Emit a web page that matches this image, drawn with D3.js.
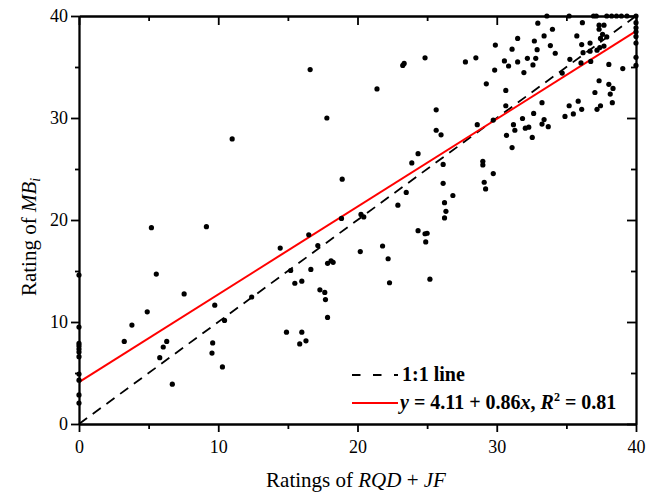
<!DOCTYPE html>
<html>
<head>
<meta charset="utf-8">
<script src="https://cdn.jsdelivr.net/npm/d3@7"></script>
<style>
body{margin:0;background:#fff;}
svg{display:block;font-family:"Liberation Serif","Times New Roman",serif;}
.axis path,.axis line{stroke:#000;stroke-width:1.8;}
.axis text{font-size:18px;fill:#000;font-family:"Liberation Serif","Times New Roman",serif;}
</style>
</head>
<body>
<div id="chart"></div>
<script>
// ratings of RQD + JF (x) and ratings of MBi (y), one entry per site
const ratingRqdJf = [
  0,0,0,0,0,0,0,0,0,0,0,
  33.6,35.2,36.95,37.15,37.9,38.25,38.6,38.95,39.35,40,
  40,40,40,40,40,40,40,
  16.6,17.8,11.0,5.2,9.15,16.5,17.15,14.45,20.2,21.8,22.2,22.3,25.2,24.9,24.85,25.0,24.35,
  17.85,18.1,18.25,17.3,17.65,17.7,17.85,22.9,20.25,20.45,18.85,18.9,12.4,15.2,16.65,15.5,16.0,
  14.9,16.0,15.85,16.3,3.25,3.8,4.9,5.55,5.8,6.05,6.3,6.7,7.55,9.75,9.6,9.55,10.3,10.45,
  23.5,24.35,23.9,26.15,29.0,29.0,29.75,29.1,29.2,26.15,26.85,26.25,26.35,26.25,25.65,25.65,26.0,
  21.4,23.25,23.35,24.85,27.75,28.5,29.9,31.5,31.1,30.55,30.85,31.5,29.85,29.25,30.65,30.65,
  31.85,28.6,29.75,31.2,31.3,30.7,31.1,32.55,32.05,32.3,32.65,33.25,33.4,33.25,33.7,34.9,35.5,
  35.2,35.85,36.1,37.2,37.45,38.3,37.05,38.15,37.35,38.05,38.35,39.05,38.05,36.75,36.05,35.25,
  34.7,31.95,32.6,32.2,32.8,32.9,34.2,33.85,32.7,33.4,34.0,32.95,36.15,35.75,36.1,36.7,36.2,
  36.7,37.2,37.4,37.7,37.35,37.7,37.35,37.6,37.9,37.45
];
const ratingMbi = [
  14.6,9.5,7.9,7.65,7.35,7.05,6.6,4.9,4.3,2.85,2.05,
  40,40,40,40,40,40,40,40,40,40,
  39.35,38.85,38.45,38.0,37.35,35.95,35.15,
  34.75,30.0,27.95,19.25,19.35,18.55,17.5,17.25,16.9,17.45,16.2,13.85,14.2,17.85,18.65,18.7,18.95,
  15.75,16.0,15.85,13.15,12.9,12.2,10.45,21.45,20.55,20.3,20.15,24.0,12.45,15.05,15.15,13.8,14.0,
  9.0,9.0,7.85,8.15,8.1,9.7,11.0,14.7,6.5,7.55,8.1,3.9,12.75,11.65,7.95,6.95,5.6,10.15,
  22.7,26.5,25.6,25.45,25.75,25.4,24.55,23.7,23.05,23.6,22.4,21.7,20.85,20.2,30.8,28.8,28.35,
  32.85,35.15,35.35,35.9,35.5,35.9,37.15,37.8,36.75,35.6,35.1,35.5,34.7,33.35,32.7,31.2,
  29.95,29.35,29.8,29.35,28.8,28.3,27.1,28.1,29.0,29.1,30.45,31.5,29.85,29.4,29.15,30.15,30.4,
  31.2,31.65,30.85,30.85,31.2,31.5,32.5,32.35,33.65,33.3,32.9,34.85,35.25,35.55,35.4,35.75,
  34.4,34.45,35.2,35.85,35.85,36.7,36.35,37.1,37.55,38.05,38.7,39.3,39.35,38.05,37.2,37.35,36.4,
  36.55,36.65,36.9,37.05,39.1,39.1,38.7,38.2,37.95,37.8
];

const majorTicks = [0, 10, 20, 30, 40];
const minorTicks = [5, 15, 25, 35];
const fitIntercept = 4.11, fitSlope = 0.86, fitR2 = 0.81;

const W = 656, H = 492;
const margin = {top:16, right:20, bottom:68, left:79};
const w = W - margin.left - margin.right;
const h = H - margin.top - margin.bottom;

const svg = d3.select('#chart').append('svg').attr('width', W).attr('height', H);
const g = svg.append('g').attr('transform', `translate(${margin.left},${margin.top})`);

const x = d3.scaleLinear().domain([0, 40]).range([0, w]);
const y = d3.scaleLinear().domain([0, 40]).range([h, 0]);

// 1:1 line and fitted line
g.append('line')
  .attr('x1', x(0)).attr('y1', y(0)).attr('x2', x(40)).attr('y2', y(40))
  .attr('stroke', '#000').attr('stroke-width', 1.8).attr('stroke-dasharray', '10,7');
g.append('line')
  .attr('x1', x(0)).attr('y1', y(fitIntercept))
  .attr('x2', x(40)).attr('y2', y(fitIntercept + fitSlope * 40))
  .attr('stroke', '#ff0000').attr('stroke-width', 2);

// points
g.append('g').selectAll('circle')
  .data(ratingRqdJf.map((d, i) => [d, ratingMbi[i]]))
  .join('circle')
  .attr('cx', d => x(d[0])).attr('cy', d => y(d[1]))
  .attr('r', 2.6).attr('fill', '#000');

// axes: bottom/left outward, top/right inward
g.append('g').attr('class', 'axis').attr('transform', `translate(0,${h})`)
  .call(d3.axisBottom(x).tickValues(majorTicks).tickSize(8).tickSizeOuter(0).tickPadding(8));
g.append('g').attr('class', 'axis').attr('transform', `translate(0,${h})`)
  .call(d3.axisBottom(x).tickValues(minorTicks).tickSize(5).tickSizeOuter(0).tickFormat(''));
g.append('g').attr('class', 'axis')
  .call(d3.axisLeft(y).tickValues(majorTicks).tickSize(8).tickSizeOuter(0).tickPadding(3));
g.append('g').attr('class', 'axis')
  .call(d3.axisLeft(y).tickValues(minorTicks).tickSize(4).tickSizeOuter(0).tickFormat(''));
g.append('g').attr('class', 'axis')
  .call(d3.axisTop(x).tickValues(majorTicks).tickSize(-9).tickSizeOuter(0).tickFormat(''));
g.append('g').attr('class', 'axis')
  .call(d3.axisTop(x).tickValues(minorTicks).tickSize(-5).tickSizeOuter(0).tickFormat(''));
g.append('g').attr('class', 'axis').attr('transform', `translate(${w},0)`)
  .call(d3.axisRight(y).tickValues(majorTicks).tickSize(-9).tickSizeOuter(0).tickFormat(''));
g.append('g').attr('class', 'axis').attr('transform', `translate(${w},0)`)
  .call(d3.axisRight(y).tickValues(minorTicks).tickSize(-5).tickSizeOuter(0).tickFormat(''));

// axis titles
const xt = svg.append('text').attr('x', 356).attr('y', 487)
  .attr('text-anchor', 'middle').style('font-size', '21px');
xt.append('tspan').text('Ratings of ');
xt.append('tspan').style('font-style', 'italic').text('RQD');
xt.append('tspan').text(' + ');
xt.append('tspan').style('font-style', 'italic').text('JF');

const yt = svg.append('text').attr('transform', 'translate(36,237) rotate(-90)')
  .attr('text-anchor', 'middle').style('font-size', '21px');
yt.append('tspan').text('Rating of ');
yt.append('tspan').style('font-style', 'italic').text('MB');
yt.append('tspan').style('font-style', 'italic').style('font-size', '14px').attr('dy', 4).text('i');

// legend
const leg = g.append('g').attr('transform', `translate(${352 - margin.left},0)`);
leg.append('line').attr('x1', 0).attr('x2', 46).attr('y1', 375 - margin.top).attr('y2', 375 - margin.top)
  .attr('stroke', '#000').attr('stroke-width', 1.8).attr('stroke-dasharray', '8.5,12.5');
leg.append('text').attr('x', 50).attr('y', 381 - margin.top)
  .style('font-size', '20px').style('font-weight', 'bold').text('1:1 line');
leg.append('line').attr('x1', 0).attr('x2', 46).attr('y1', 403 - margin.top).attr('y2', 403 - margin.top)
  .attr('stroke', '#ff0000').attr('stroke-width', 2);
const lt = leg.append('text').attr('x', 48).attr('y', 409 - margin.top)
  .style('font-size', '20px').style('font-weight', 'bold');
lt.append('tspan').style('font-style', 'italic').text('y');
lt.append('tspan').text(` = ${fitIntercept} + ${fitSlope}`);
lt.append('tspan').style('font-style', 'italic').text('x');
lt.append('tspan').text(', ');
lt.append('tspan').style('font-style', 'italic').text('R');
lt.append('tspan').style('font-size', '12px').attr('dy', -8).text('2');
lt.append('tspan').attr('dy', 8).text(` = ${fitR2}`);
</script>
</body>
</html>
